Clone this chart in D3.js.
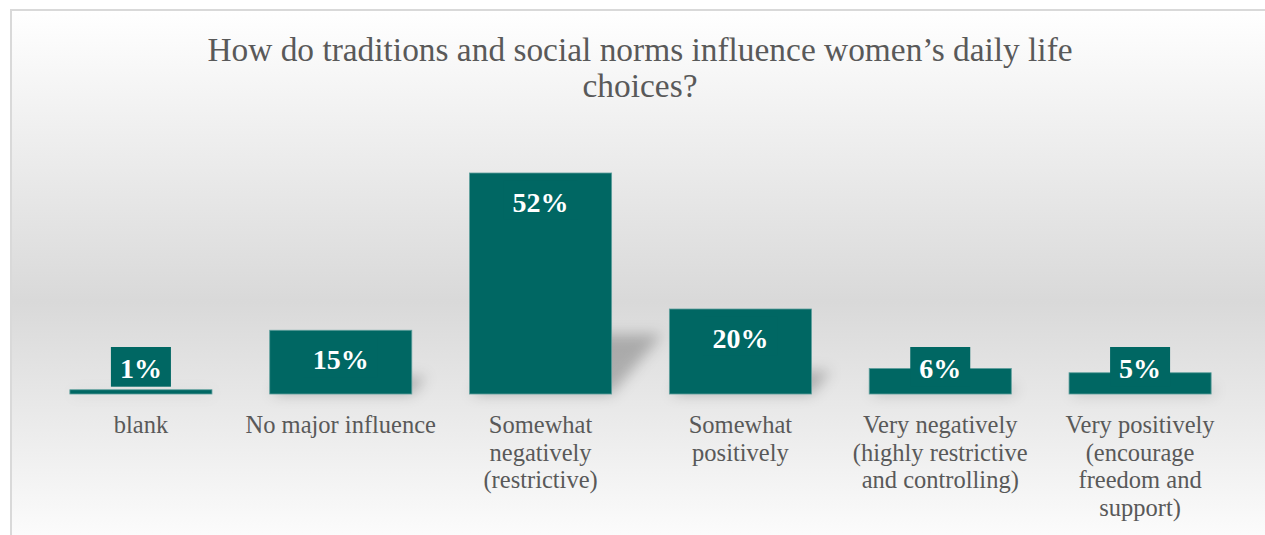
<!DOCTYPE html>
<html>
<head>
<meta charset="utf-8">
<script src="https://cdn.jsdelivr.net/npm/d3@7"></script>
<style>
  html, body { margin: 0; padding: 0; background: #ffffff; }
  svg { display: block; }
</style>
</head>
<body>
<div id="chart"></div>
<script>
// Survey answers: how traditions and social norms shape women's daily choices
const titleLines = ["How do traditions and social norms influence women\u2019s daily life", "choices?"];
const categories = [
  "blank",
  "No major influence",
  "Somewhat\nnegatively\n(restrictive)",
  "Somewhat\npositively",
  "Very negatively\n(highly restrictive\nand controlling)",
  "Very positively\n(encourage\nfreedom and\nsupport)"
];
const shares = [1, 15, 52, 20, 6, 5];
const yDomain = [0, 60];

const W = 1265, H = 535;
const FONT = "'Liberation Serif', 'Times New Roman', serif";
const BAR = "#006763";
const TEXT = "#595959";

const svg = d3.select("#chart").append("svg")
  .attr("width", W).attr("height", H);

const defs = svg.append("defs");

// chart area background: soft vertical grey band
const grad = defs.append("linearGradient")
  .attr("id", "bg").attr("gradientUnits", "userSpaceOnUse")
  .attr("x1", 0).attr("y1", 10).attr("x2", 0).attr("y2", 560);
grad.append("stop").attr("offset", 0).attr("stop-color", "#ffffff");
grad.append("stop").attr("offset", 0.53).attr("stop-color", "#d9d9d9");
grad.append("stop").attr("offset", 1).attr("stop-color", "#ffffff");

const blur = defs.append("filter").attr("id", "shadowBlur")
  .attr("x", "-50%").attr("y", "-50%").attr("width", "200%").attr("height", "200%");
blur.append("feGaussianBlur").attr("stdDeviation", 7);

svg.append("rect")
  .attr("x", 11).attr("y", 10).attr("width", 1320).attr("height", 620)
  .attr("fill", "url(#bg)")
  .attr("stroke", "#d9d9d9").attr("stroke-width", 2);

// title
const title = svg.append("text")
  .attr("font-family", FONT).attr("font-size", 33.4)
  .attr("fill", TEXT).attr("text-anchor", "middle");
titleLines.forEach((line, i) => {
  title.append("tspan").attr("x", 640).attr("y", 61 + i * 36).text(line);
});

// scales
const x = d3.scaleBand().domain(categories)
  .range([41, 1240]).paddingInner(0.289).paddingOuter(0.1445);
const y = d3.scaleLinear().domain(yDomain).range([394, 139]);
const base = y(0);

const data = categories.map((c, i) => ({ cat: c, value: shares[i] }));

// perspective shadows cast up and to the right of each bar
svg.append("g").attr("filter", "url(#shadowBlur)")
  .selectAll("polygon").data(data).join("polygon")
  .attr("fill", "#000").attr("fill-opacity", 0.24)
  .attr("points", d => {
    const x0 = x(d.cat) + 2, x1 = x(d.cat) + x.bandwidth();
    const dh = (base - y(d.value)) * 0.27;
    const dx = dh * 0.85;
    return [[x0, base], [x1, base], [x1 + dx, base - dh], [x0 + dx, base - dh]]
      .map(p => p.join(",")).join(" ");
  });

// bars
svg.append("g").selectAll("rect").data(data).join("rect")
  .attr("x", d => x(d.cat))
  .attr("y", d => y(d.value))
  .attr("width", x.bandwidth())
  .attr("height", d => base - y(d.value))
  .attr("fill", BAR)
  .attr("stroke", "#5e9f9c").attr("stroke-width", 0.8);

// value labels, with a filled box when the label rises above a short bar
const labels = svg.append("g").selectAll("g").data(data).join("g")
  .attr("transform", d => {
    const cx = x(d.cat) + x.bandwidth() / 2;
    const by = Math.min(y(d.value) + 38.5, base - 15.7);
    return `translate(${cx},${by})`;
  });
labels.append("text")
  .attr("font-family", FONT).attr("font-size", 28).attr("font-weight", "bold")
  .attr("fill", "#ffffff").attr("text-anchor", "middle")
  .text(d => d.value + "%");
labels.insert("rect", "text")
  .attr("fill", BAR)
  .each(function () {
    const t = this.parentNode.querySelector("text");
    const w = t.getComputedTextLength() + 18;
    d3.select(this).attr("x", -w / 2).attr("width", w).attr("y", -31.3).attr("height", 39.7);
  });

// category axis without line or ticks; multi-line labels
const axis = svg.append("g")
  .attr("transform", `translate(0,${base})`)
  .call(d3.axisBottom(x).tickSize(0).tickPadding(0));
axis.select(".domain").remove();
axis.selectAll("text")
  .attr("font-family", FONT).attr("font-size", 24.5)
  .attr("fill", TEXT).attr("dy", null).attr("y", 39)
  .each(function (d) {
    const t = d3.select(this);
    t.text(null);
    d.split("\n").forEach((line, i) => {
      t.append("tspan").attr("x", 0).attr("dy", i === 0 ? 0 : 27.7).text(line);
    });
  });
</script>
</body>
</html>
